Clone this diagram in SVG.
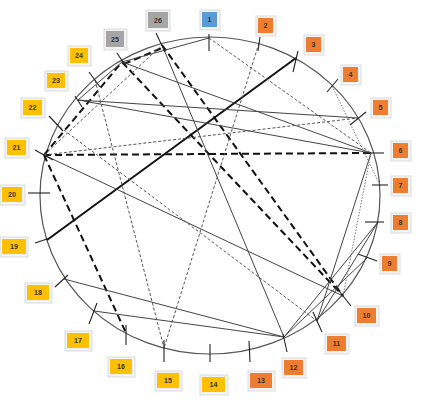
<svg xmlns="http://www.w3.org/2000/svg" width="421" height="402" viewBox="0 0 421 402">
<defs>
<style>
.ring{fill:none;stroke:#555;stroke-width:1.2}
.tick{stroke:#222;stroke-width:1.1}
.ts{stroke:#111;stroke-width:2;fill:none}
.td{stroke:#111;stroke-width:2;stroke-dasharray:7 4;fill:none}
.s{stroke:#444;stroke-width:1;fill:none}
.d{stroke:#555;stroke-width:1;stroke-dasharray:3 2;fill:none}
.o{stroke:#777;stroke-width:1;stroke-dasharray:1.5 1.5;fill:none}
.frame{fill:#f3f3f3;stroke:#dcdcdc;stroke-width:1}
.b1{fill:#5b9bd5}
.bo{fill:#ed7d31}
.by{fill:#ffc000}
.bg{fill:#a5a5a5}
.lab{font-family:"Liberation Sans",Arial,sans-serif;font-size:7px;font-weight:bold;fill:#333;text-anchor:middle}
</style>
</defs>
<rect width="421" height="402" fill="#fff"/>
<ellipse class="ring" cx="210" cy="195.5" rx="170" ry="158.5"/>
<g id="connectors">
<line class="ts" x1="296" y1="58" x2="47" y2="240"/>
<line class="td" x1="44" y1="155" x2="371" y2="153"/>
<line class="td" x1="44" y1="155" x2="126" y2="333"/>
<line class="td" x1="122" y1="62" x2="343" y2="296"/>
<line class="td" x1="162" y1="45" x2="343" y2="296"/>
<line class="td" x1="44" y1="155" x2="122" y2="62"/>
<line class="td" x1="124" y1="64" x2="162" y2="48"/>
<line class="s" x1="122" y1="62" x2="209" y2="38"/>
<line class="s" x1="162" y1="45" x2="284" y2="337"/>
<line class="s" x1="44" y1="155" x2="343" y2="296"/>
<line class="s" x1="78" y1="100" x2="358" y2="118"/>
<line class="s" x1="78" y1="100" x2="371" y2="153"/>
<line class="s" x1="122" y1="62" x2="371" y2="153"/>
<line class="s" x1="64" y1="279" x2="284" y2="337"/>
<line class="s" x1="94" y1="311" x2="284" y2="337"/>
<line class="s" x1="284" y1="337" x2="378" y2="222"/>
<line class="s" x1="284" y1="337" x2="367" y2="258"/>
<line class="s" x1="371" y1="153" x2="317" y2="321"/>
<line class="s" x1="317" y1="321" x2="378" y2="222"/>
<line class="s" x1="78" y1="100" x2="122" y2="62"/>
<line class="d" x1="209" y1="38" x2="371" y2="153"/>
<line class="d" x1="259" y1="43" x2="164" y2="348"/>
<line class="d" x1="95" y1="80" x2="164" y2="348"/>
<line class="d" x1="56" y1="124" x2="317" y2="321"/>
<line class="d" x1="44" y1="155" x2="358" y2="118"/>
<line class="d" x1="44" y1="155" x2="162" y2="45"/>
<line class="o" x1="371" y1="153" x2="343" y2="296"/>
<line class="o" x1="332" y1="86" x2="380" y2="185"/>
</g>
<g id="n1"><line class="tick" x1="209" y1="34" x2="209" y2="51"/><rect class="frame" x="200" y="10" width="20" height="20"/><rect class="b1" x="202" y="12" width="15" height="15"/><text class="lab" x="209.5" y="22">1</text></g>
<g id="n2"><line class="tick" x1="260" y1="37" x2="258" y2="51"/><rect class="frame" x="256" y="16" width="20" height="20"/><rect class="bo" x="258" y="18" width="15" height="15"/><text class="lab" x="265.5" y="28">2</text></g>
<g id="n3"><line class="tick" x1="298" y1="51" x2="293" y2="72"/><rect class="frame" x="304" y="35" width="20" height="20"/><rect class="bo" x="306" y="37" width="15" height="15"/><text class="lab" x="313.5" y="47">3</text></g>
<g id="n4"><line class="tick" x1="338" y1="79" x2="327" y2="92"/><rect class="frame" x="341" y="65" width="20" height="20"/><rect class="bo" x="343" y="67" width="15" height="15"/><text class="lab" x="350.5" y="77">4</text></g>
<g id="n5"><line class="tick" x1="366" y1="112" x2="350" y2="125"/><rect class="frame" x="371" y="98" width="20" height="20"/><rect class="bo" x="373" y="100" width="15" height="15"/><text class="lab" x="380.5" y="110">5</text></g>
<g id="n6"><line class="tick" x1="366" y1="153" x2="384" y2="153"/><rect class="frame" x="391" y="141" width="20" height="20"/><rect class="bo" x="393" y="143" width="15" height="15"/><text class="lab" x="400.5" y="153">6</text></g>
<g id="n7"><line class="tick" x1="372" y1="185" x2="388" y2="185"/><rect class="frame" x="391" y="176" width="20" height="20"/><rect class="bo" x="393" y="178" width="15" height="15"/><text class="lab" x="400.5" y="188">7</text></g>
<g id="n8"><line class="tick" x1="365" y1="222" x2="384" y2="222"/><rect class="frame" x="391" y="213" width="20" height="20"/><rect class="bo" x="393" y="215" width="15" height="15"/><text class="lab" x="400.5" y="225">8</text></g>
<g id="n9"><line class="tick" x1="358" y1="254" x2="377" y2="261"/><rect class="frame" x="380" y="254" width="20" height="20"/><rect class="bo" x="382" y="256" width="15" height="15"/><text class="lab" x="389.5" y="266">9</text></g>
<g id="n10"><line class="tick" x1="336" y1="287" x2="351" y2="306"/><rect class="frame" x="355" y="306" width="24" height="20"/><rect class="bo" x="357" y="308" width="19" height="15"/><text class="lab" x="366.5" y="318">10</text></g>
<g id="n11"><line class="tick" x1="313" y1="312" x2="322" y2="332"/><rect class="frame" x="325" y="334" width="24" height="20"/><rect class="bo" x="327" y="336" width="19" height="15"/><text class="lab" x="336.5" y="346">11</text></g>
<g id="n12"><line class="tick" x1="283" y1="334" x2="287" y2="352"/><rect class="frame" x="282" y="358" width="24" height="20"/><rect class="bo" x="284" y="360" width="19" height="15"/><text class="lab" x="293.5" y="370">12</text></g>
<g id="n13"><line class="tick" x1="249" y1="341" x2="250" y2="362"/><rect class="frame" x="248" y="371" width="27" height="20"/><rect class="bo" x="250" y="373" width="22" height="15"/><text class="lab" x="261" y="383">13</text></g>
<g id="n14"><line class="tick" x1="210" y1="344" x2="210" y2="362"/><rect class="frame" x="200" y="375" width="28" height="20"/><rect class="by" x="202" y="377" width="23" height="15"/><text class="lab" x="213.5" y="387">14</text></g>
<g id="n15"><line class="tick" x1="164" y1="340" x2="164" y2="362"/><rect class="frame" x="155" y="371" width="27" height="20"/><rect class="by" x="157" y="373" width="22" height="15"/><text class="lab" x="168" y="383">15</text></g>
<g id="n16"><line class="tick" x1="126" y1="325" x2="126" y2="345"/><rect class="frame" x="108" y="357" width="27" height="20"/><rect class="by" x="110" y="359" width="22" height="15"/><text class="lab" x="121" y="369">16</text></g>
<g id="n17"><line class="tick" x1="97" y1="303" x2="89" y2="324"/><rect class="frame" x="65" y="331" width="27" height="20"/><rect class="by" x="67" y="333" width="22" height="15"/><text class="lab" x="78" y="343">17</text></g>
<g id="n18"><line class="tick" x1="68" y1="275" x2="55" y2="287"/><rect class="frame" x="25" y="283" width="27" height="20"/><rect class="by" x="27" y="285" width="22" height="15"/><text class="lab" x="38" y="295">18</text></g>
<g id="n19"><line class="tick" x1="50" y1="238" x2="35" y2="243"/><rect class="frame" x="0" y="237" width="28" height="20"/><rect class="by" x="2" y="239" width="24" height="15"/><text class="lab" x="14" y="249">19</text></g>
<g id="n20"><line class="tick" x1="28" y1="193" x2="50" y2="193"/><rect class="frame" x="0" y="185" width="25" height="20"/><rect class="by" x="2" y="187" width="20" height="15"/><text class="lab" x="12" y="197">20</text></g>
<g id="n21"><line class="tick" x1="35" y1="150" x2="53" y2="160"/><rect class="frame" x="5" y="138" width="24" height="20"/><rect class="by" x="7" y="140" width="19" height="15"/><text class="lab" x="16.5" y="150">21</text></g>
<g id="n22"><line class="tick" x1="49" y1="116" x2="63" y2="131"/><rect class="frame" x="21" y="98" width="24" height="20"/><rect class="by" x="23" y="100" width="19" height="15"/><text class="lab" x="32.5" y="110">22</text></g>
<g id="n23"><line class="tick" x1="75" y1="96" x2="82" y2="107"/><rect class="frame" x="45" y="71" width="23" height="20"/><rect class="by" x="47" y="73" width="18" height="15"/><text class="lab" x="56" y="83">23</text></g>
<g id="n24"><line class="tick" x1="89" y1="72" x2="100" y2="87"/><rect class="frame" x="68" y="46" width="23" height="20"/><rect class="by" x="70" y="48" width="18" height="15"/><text class="lab" x="79" y="58">24</text></g>
<g id="n25"><line class="tick" x1="117" y1="53" x2="127" y2="68"/><rect class="frame" x="104" y="29" width="23" height="21"/><rect class="bg" x="106" y="31" width="18" height="16"/><text class="lab" x="115" y="41.5">25</text></g>
<g id="n26"><line class="tick" x1="156" y1="33" x2="165" y2="52"/><rect class="frame" x="146" y="10" width="24" height="21"/><rect class="bg" x="148" y="12" width="20" height="16"/><text class="lab" x="158" y="22.5">26</text></g>
</svg>
